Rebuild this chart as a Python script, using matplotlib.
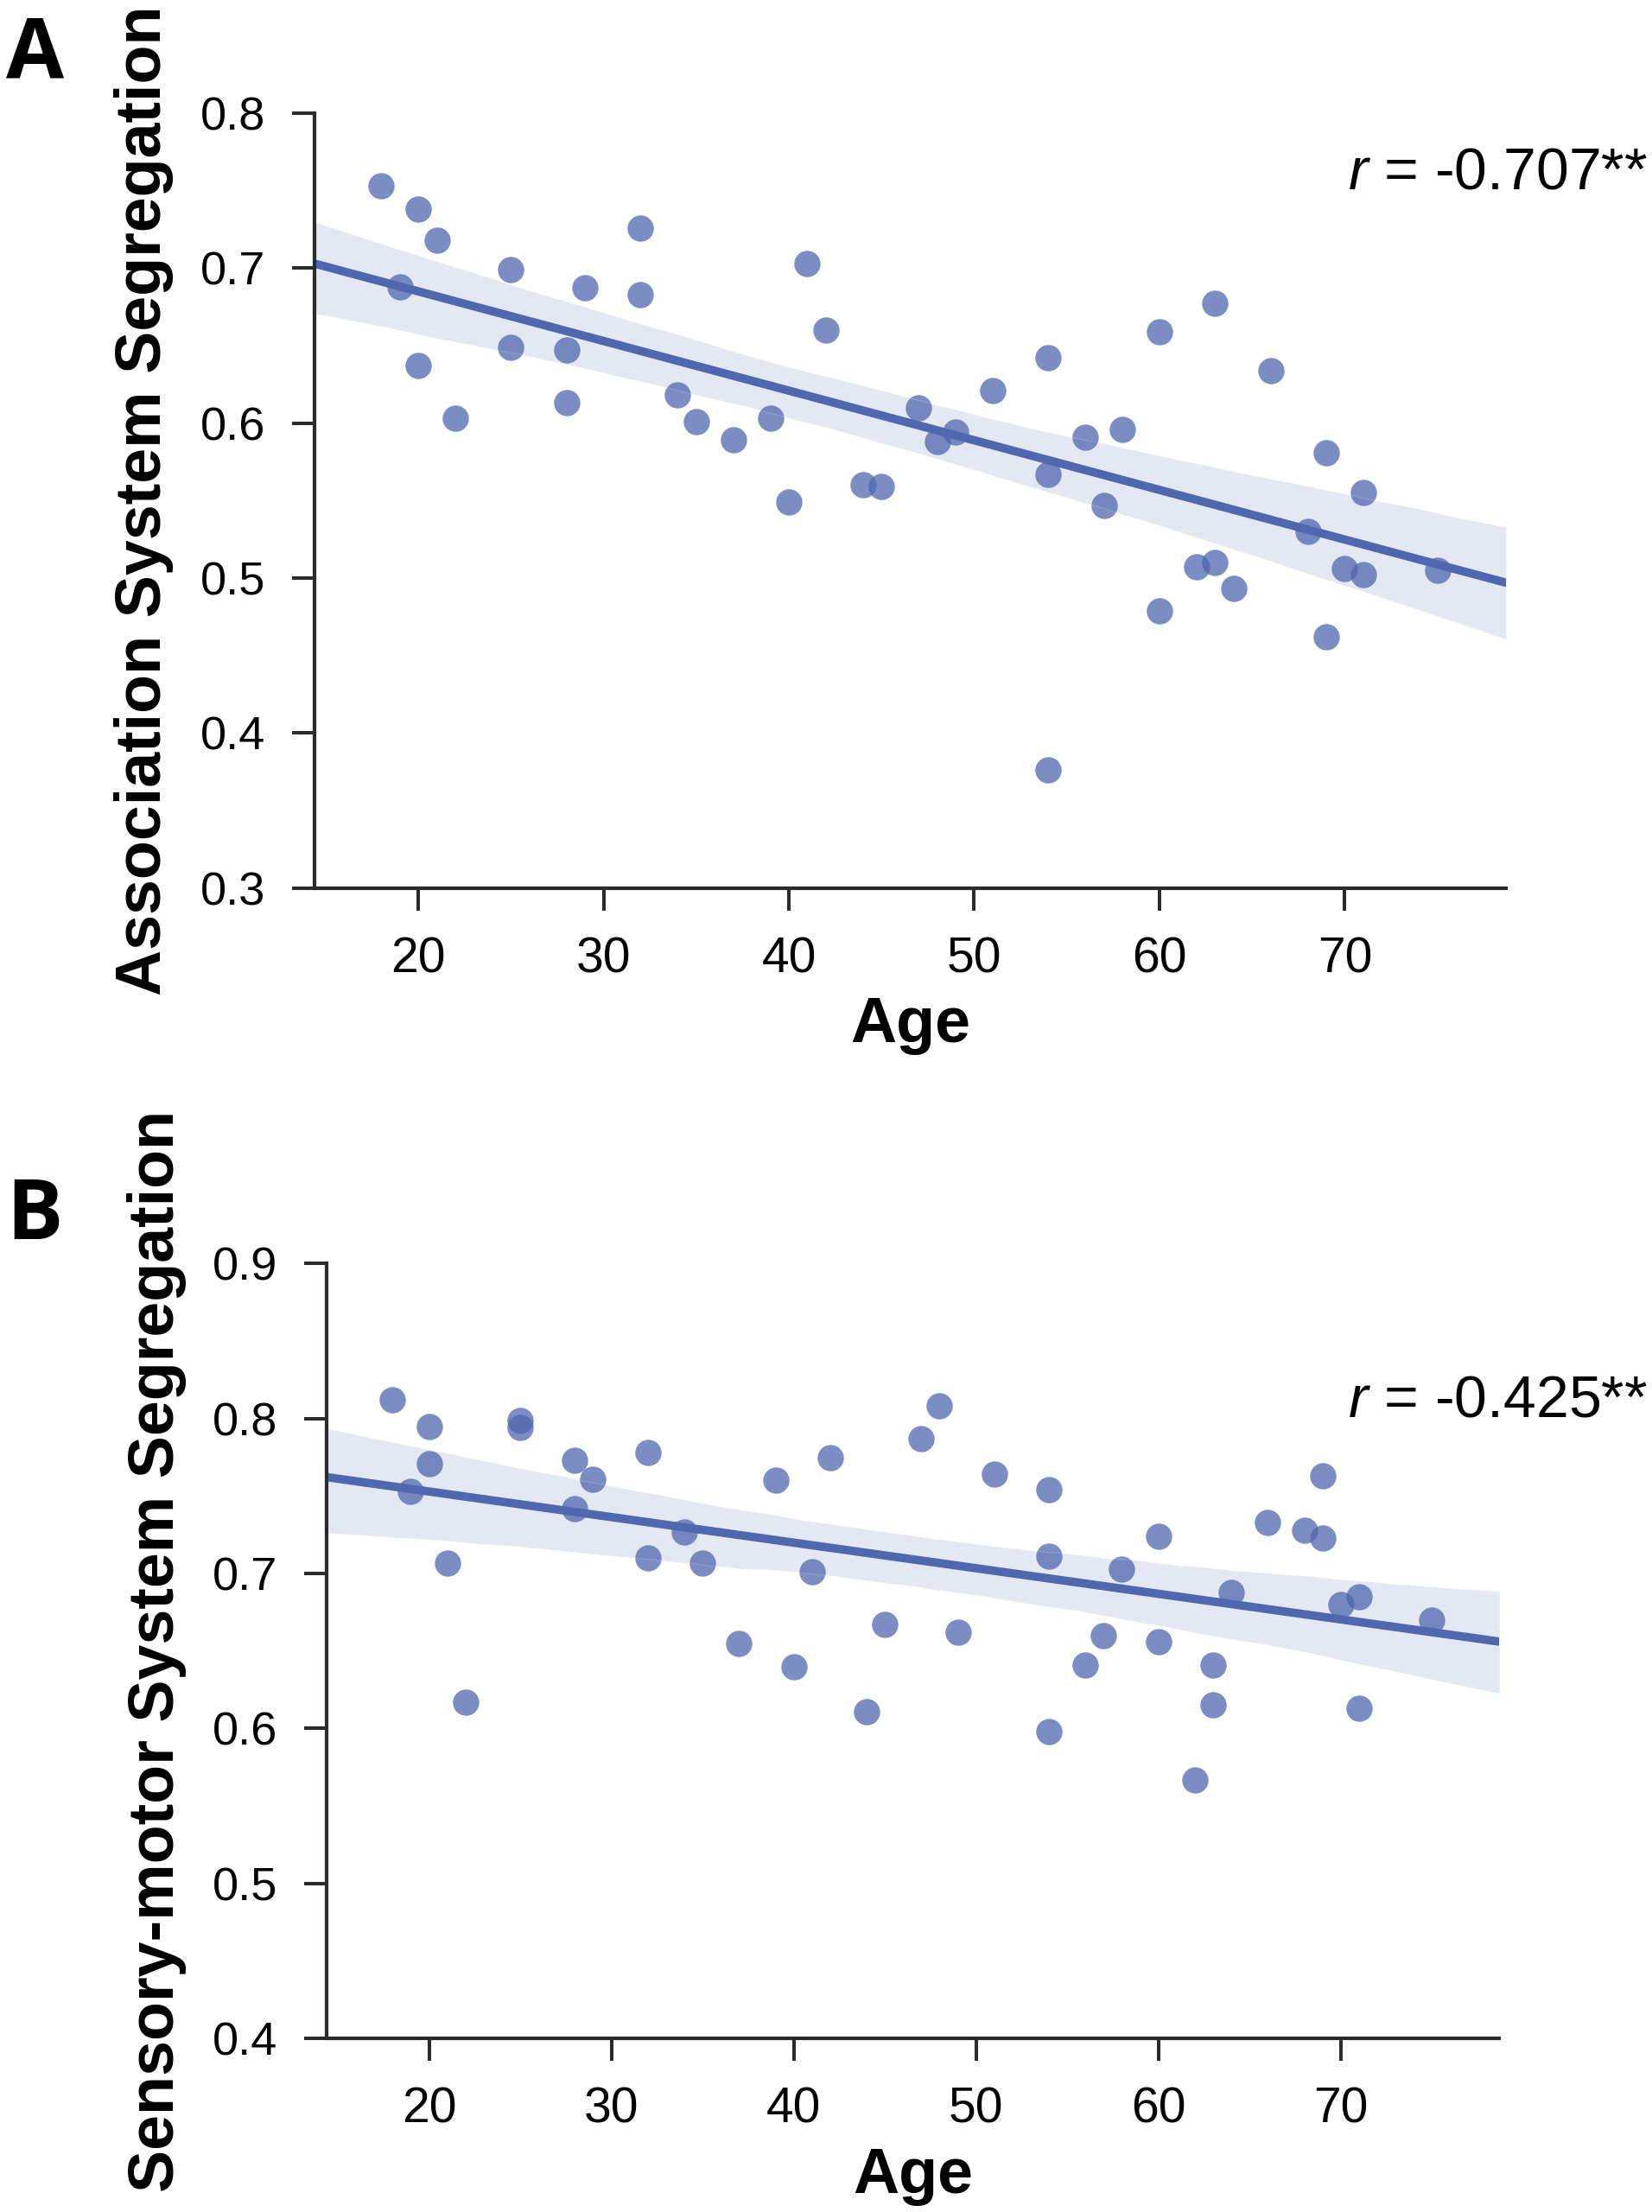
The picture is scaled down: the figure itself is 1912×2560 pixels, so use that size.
import matplotlib
matplotlib.use("Agg")
import matplotlib.pyplot as plt
import numpy as np
import seaborn as sns

# ages of the 46 participants (same people in both panels)
age = [18, 19, 20, 20, 21, 22, 25, 25, 28, 28, 29, 32, 32, 34, 35, 37, 39, 40, 41, 42,
       44, 45, 47, 48, 49, 51, 54, 54, 54, 56, 57, 58, 60, 60, 62, 63, 63, 64, 66, 68,
       69, 69, 70, 71, 71, 75]

# A: association system segregation
assoc_seg = [0.753, 0.688, 0.738, 0.637, 0.718, 0.603, 0.699, 0.649, 0.647, 0.613,
             0.687, 0.726, 0.683, 0.618, 0.601, 0.589, 0.603, 0.549, 0.703, 0.660,
             0.560, 0.559, 0.610, 0.588, 0.594, 0.621, 0.642, 0.567, 0.376, 0.591,
             0.547, 0.596, 0.659, 0.479, 0.507, 0.677, 0.510, 0.493, 0.634, 0.530,
             0.581, 0.462, 0.506, 0.555, 0.502, 0.505]

# B: sensory-motor system segregation
sensmot_seg = [0.812, 0.753, 0.795, 0.771, 0.707, 0.617, 0.799, 0.794, 0.773, 0.742,
               0.761, 0.778, 0.710, 0.727, 0.707, 0.655, 0.760, 0.640, 0.701, 0.775,
               0.611, 0.667, 0.787, 0.808, 0.662, 0.764, 0.754, 0.711, 0.598, 0.641,
               0.660, 0.703, 0.724, 0.656, 0.567, 0.641, 0.615, 0.688, 0.733, 0.728,
               0.763, 0.723, 0.680, 0.685, 0.613, 0.670]

r_labels = ["-0.707**", "-0.425**"]
ylabels = ["Association System Segregation", "Sensory-motor System Segregation"]
panel_letters = ["A", "B"]
yticks_a = [0.3, 0.4, 0.5, 0.6, 0.7, 0.8]
yticks_b = [0.4, 0.5, 0.6, 0.7, 0.8, 0.9]
xticks = [20, 30, 40, 50, 60, 70]

sns.set_style("ticks")
plt.rcParams["font.family"] = ["Liberation Sans", "DejaVu Sans"]
plt.rcParams["mathtext.fontset"] = "custom"
plt.rcParams["mathtext.it"] = "Liberation Sans:italic"
plt.rcParams["mathtext.rm"] = "Liberation Sans"
plt.rcParams["text.color"] = "black"
plt.rcParams["axes.labelcolor"] = "black"

color = "#4f67ae"
spine_col = "#2b2b2b"

fig = plt.figure(figsize=(19.12, 25.6), dpi=100)

panels = [
    ([0.1904, 0.5986, 0.9116 - 0.1904, 0.9489 - 0.5986], assoc_seg, yticks_a,
     0.91484, 1 - 91 / 2560),
    ([0.1979, 0.0785, 0.9076 - 0.1979, 0.42875 - 0.0785], sensmot_seg, yticks_b,
     0.3594, 1 - 1434 / 2560),
]

for i, (rect, vals, yt, r_y, letter_y) in enumerate(panels):
    ax = fig.add_axes(rect)
    ax.set_xlim(14.4, 78.7)
    ax.set_ylim(yt[0], yt[-1])
    sns.regplot(x=np.array(age), y=np.array(vals), ax=ax, truncate=False, ci=95,
                n_boot=1000, seed=3, color=color,
                scatter_kws={"s": 480, "alpha": 0.75, "linewidths": 0},
                line_kws={"lw": 7})
    ax.set_xlim(14.4, 78.7)
    ax.set_ylim(yt[0], yt[-1])
    sns.despine(ax=ax)
    for side in ["left", "bottom"]:
        ax.spines[side].set_linewidth(3)
        ax.spines[side].set_color(spine_col)
    ax.set_xticks(xticks)
    ax.set_yticks(yt)
    ax.set_yticklabels(["%.1f" % v for v in yt])
    ax.tick_params(axis="x", length=19, width=2.9, color=spine_col, labelcolor="black",
                   pad=21, labelsize=41)
    ax.tick_params(axis="y", length=19, width=2.9, color=spine_col, labelcolor="black",
                   pad=22, labelsize=39)
    ax.set_xlabel("Age", fontsize=53, fontweight="bold", labelpad=11)
    ax.set_ylabel(ylabels[i], fontsize=53, fontweight="bold", labelpad=22)

    fig.text(0.9974, r_y, r"$r$ = " + r_labels[i], fontsize=49,
             ha="right", va="baseline")
    fig.text(0.0037, letter_y, panel_letters[i], fontsize=70, fontweight="bold",
             family=["Open Sans", "DejaVu Sans"], ha="left", va="baseline")

fig.savefig("out.png", dpi=100)
